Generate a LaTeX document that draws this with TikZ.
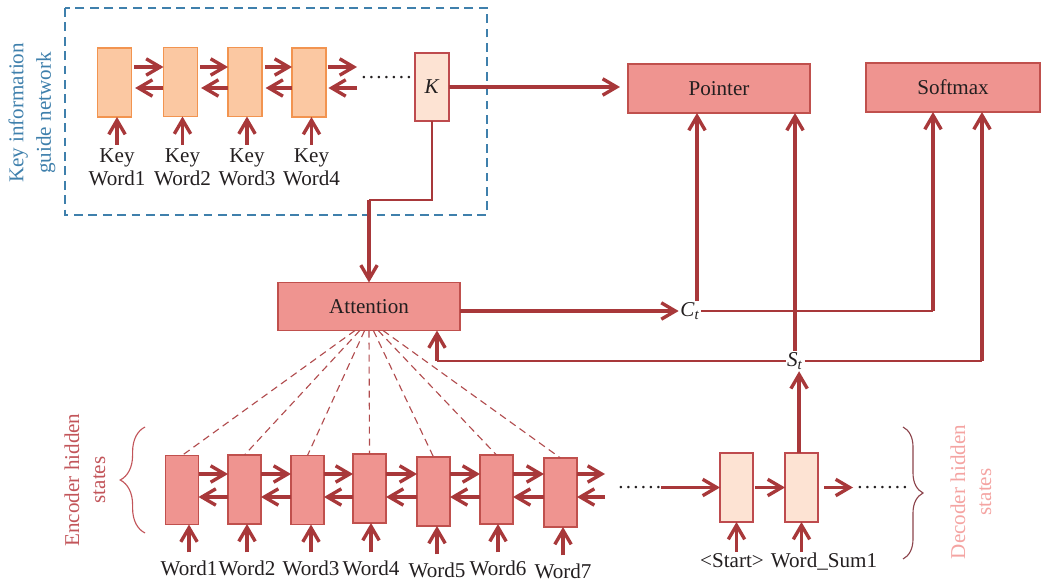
\documentclass[tikz,border=0pt]{standalone}
\usepackage{fontspec}
\setmainfont{Liberation Serif}
\usetikzlibrary{arrows.meta,decorations.pathreplacing}

\definecolor{arrowred}{HTML}{A8383A}
\definecolor{boxfill}{HTML}{EF9490}
\definecolor{boxline}{HTML}{C0504D}
\definecolor{keyfill}{HTML}{FBC8A2}
\definecolor{keyline}{HTML}{F29450}
\definecolor{palefill}{HTML}{FDE3D3}
\definecolor{paleline}{HTML}{BE4B4E}
\definecolor{guideblue}{HTML}{3F80AC}
\definecolor{txt}{HTML}{231F20}
\definecolor{declabel}{HTML}{F4A4A2}
\definecolor{enclabel}{HTML}{C2555A}
\definecolor{decbrace}{HTML}{8C444C}

% row of spaced dots
\newcommand\dotpt{.\kern1.6pt}

\tikzset{
  cell/.style={draw=boxline, fill=boxfill, line width=0.9pt, minimum width=8.25mm,
    minimum height=17.25mm, inner sep=0pt, outer sep=0pt},
  keycell/.style={cell, draw=keyline, fill=keyfill, minimum width=8.5mm},
  palecell/.style={cell, draw=paleline, fill=palefill},
  block/.style={draw=boxline, fill=boxfill, line width=0.9pt, minimum width=45.5mm,
    minimum height=12.25mm, inner sep=0pt, outer sep=0pt},
  flow/.style={draw=arrowred, line width=2.4pt, -{Straight Barb[length=3.5mm,width=4.1mm]}},
  link/.style={draw=arrowred, line width=1pt},
  attdash/.style={draw=arrowred!90!white, line width=0.8pt, dash pattern=on 1.8mm off 1.2mm},
  lbl/.style={inner sep=0pt, text=txt},
  dotsnode/.style={inner sep=0pt, text=txt, anchor=base west},
}

\begin{document}
\begin{tikzpicture}[x=0.025cm, y=-0.025cm, font=\fontsize{15}{16.5}\selectfont, text=txt]
\useasboundingbox (0,0) rectangle (1050,582);

% ---------- key information guide network ----------
\draw[guideblue, line width=1pt, dash pattern=on 2.2mm off 1.4mm] (65,8) rectangle (487,215);
\node[rotate=90, align=center, text=guideblue, font=\fontsize{15}{19.5}\selectfont] (guide) at (32,113)
  {Key information\\guide network};

\node[keycell] (k1) at (114.5,82.5) {};
\node[keycell] (k2) at (180.5,82) {};
\node[keycell] (k3) at (245,82) {};
\node[keycell] (k4) at (309,82.5) {};
\node[palecell, minimum width=8.5mm, minimum height=17mm] (kk) at (432,87) {\textit{K}};

\coordinate (kf) at (0,67);
\coordinate (kb) at (0,88);
\foreach \a/\b in {k1/k2,k2/k3,k3/k4}{
  \draw[flow, shorten <=0.7mm] (\a.east |- kf) -- (\b.west |- kf);
  \draw[flow, shorten >=0.9mm] (\b.west |- kb) -- (\a.east |- kb);
}
\coordinate (kfe) at (357,67);
\coordinate (kbe) at (357,88);
\draw[flow, shorten <=0.4mm] (k4.east |- kf) -- (kfe);
\draw[flow, shorten >=0.6mm] (kbe) -- (k4.east |- kb);
\node[dotsnode] (kdots) at (361,79) {\dotpt\dotpt\dotpt\dotpt\dotpt\dotpt.};

\foreach \n/\x/\t in {1/117/Word1,2/182.5/Word2,3/247/Word3,4/311.5/Word4}{
  \node[lbl, align=center, anchor=north] (kw\n) at (\x,148) {Key\\\t};
  \draw[flow] ([yshift=0.75mm]kw\n.north) -- (kw\n.north |- k\n.south);
}

% ---------- output blocks ----------
\node[block] (ptr) at (719,88.5) {Pointer};
\node[block, minimum width=43.5mm] (sm) at (953,87.5) {Softmax};
\node[block, minimum height=12mm] (att) at (369,306.5) {Attention};

\draw[flow, shorten >=2mm] (kk.east) -- (kk.east -| ptr.west);

\coordinate (kbend) at (369,200);
\draw[link] (kk.south) |- (kbend);
\draw[flow] (kbend) -- (att.north);

% ---------- context and state ----------
\node[lbl, inner sep=1pt] (ct) at (690,311) {\textit{C}\textsubscript{\textit{t}}};
\node[lbl, inner sep=1pt] (st) at (795,361) {\textit{S}\textsubscript{\textit{t}}};

\draw[flow] (att.east |- ct.west) -- (ct.west);
\draw[flow] ([xshift=1.75mm]ct.north) -- ([xshift=1.75mm]ct.north |- ptr.south);

\coordinate (cbend) at (933,0);
\draw[link] (ct.east) -- (cbend |- ct.east);
\draw[flow] (cbend |- ct.east) -- (cbend |- sm.south);

\draw[flow] (st.north) -- (st.north |- ptr.south);

\coordinate (sbend) at (982,0);
\draw[link] (st.east) -- (sbend |- st.east);
\draw[flow] (sbend |- st.east) -- (sbend |- sm.south);

\coordinate (abend) at (437,0);
\draw[link] (st.west) -- (abend |- st.west);
\draw[flow] (abend |- st.west) -- (abend |- att.south);

% ---------- encoder ----------
\node[cell] (e1) at (182,490) {};
\node[cell] (e2) at (244.5,489.5) {};
\node[cell] (e3) at (307.5,490) {};
\node[cell] (e4) at (369.5,488.5) {};
\node[cell] (e5) at (433.5,491.5) {};
\node[cell] (e6) at (496.5,489.5) {};
\node[cell] (e7) at (560.5,492.5) {};

\foreach \i/\s in {1/-3.5,2/-2.3,3/-1.1,4/0,5/1.1,6/2.3,7/3.5}{
  \draw[attdash] ([xshift=\s mm]att.south) -- (e\i.north);
}

\coordinate (ef) at (0,474);
\coordinate (eb) at (0,497);
\foreach \a/\b in {e1/e2,e2/e3,e3/e4,e4/e5,e5/e6,e6/e7}{
  \draw[flow] (\a.east |- ef) -- (\b.west |- ef);
  \draw[flow] (\b.west |- eb) -- (\a.east |- eb);
}
\coordinate (efe) at (605,474);
\coordinate (ebe) at (605,497);
\draw[flow] (e7.east |- ef) -- (efe);
\draw[flow] (ebe) -- (e7.east |- eb);

\foreach \n/\x/\y in {1/189/575,2/247/575,3/311/575,4/371/575,5/437/577,6/498/575,7/563/578}{
  \node[lbl, anchor=base] (w\n) at (\x,\y) {Word\n};
  \draw[flow] ([yshift=1.9mm]w\n.north) -- (w\n.north |- e\n.south);
}

\draw[decorate, decoration={brace, amplitude=6.2mm}, enclabel, line width=0.8pt] (145,533) -- (145,427);
\node[rotate=90, align=center, text=enclabel, font=\fontsize{15}{18.5}\selectfont] (enc) at (85,480)
  {Encoder hidden\\states};

% ---------- decoder ----------
\node[dotsnode] (edots) at (618,488) {\dotpt\dotpt\dotpt\dotpt\dotpt.};
\node[palecell] (d1) at (736.5,487.5) {};
\node[palecell] (d2) at (801.5,487.5) {};
\draw[flow] (edots.east |- d1.west) -- (d1.west);
\draw[flow, shorten <=0.5mm] (d1.east) -- (d2.west);
\node[dotsnode] (ddots) at (857,488) {\dotpt\dotpt\dotpt\dotpt\dotpt\dotpt.};
\draw[flow, shorten <=1.5mm, shorten >=1mm] (d2.east) -- (ddots.west |- d2.east);

\draw[flow] ([xshift=-0.6mm]d2.north) -- ([xshift=-0.6mm]d2.north |- st.south);

\node[lbl, anchor=base] (start) at (732,567) {\textless Start\textgreater};
\node[lbl, anchor=base] (wsum) at (824,567) {Word\_Sum1};
\draw[flow] ([yshift=-7.4mm]d1.south) -- (d1.south);
\draw[flow] ([yshift=-7.4mm]d2.south) -- (d2.south);

\draw[decorate, decoration={brace, amplitude=5mm}, decbrace, line width=0.8pt] (903,427) -- (903,559);
\node[rotate=90, align=center, text=declabel, font=\fontsize{15}{18.5}\selectfont] (dec) at (971,492)
  {Decoder hidden\\states};
\end{tikzpicture}
\end{document}
